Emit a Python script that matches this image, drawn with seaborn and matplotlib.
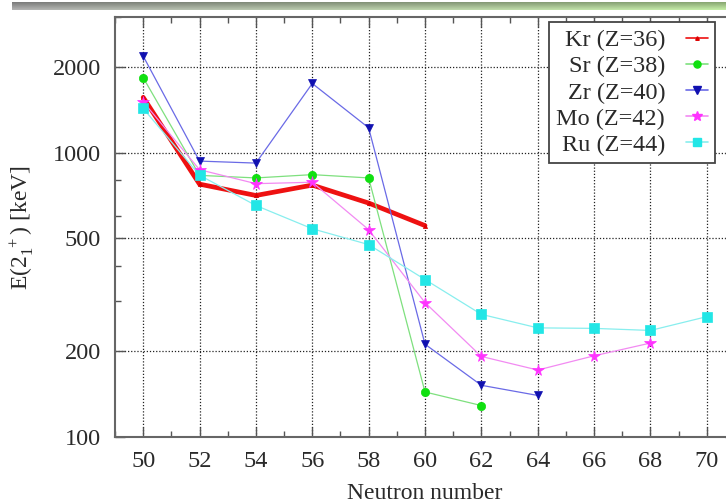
import numpy as np
import pandas as pd
import matplotlib
matplotlib.use("Agg")
import matplotlib.pyplot as plt
from matplotlib.lines import Line2D
from matplotlib.ticker import FixedLocator, FixedFormatter, NullFormatter
import seaborn as sns

# ---- data ----
elements = ["Kr (Z=36)", "Sr (Z=38)", "Zr (Z=40)", "Mo (Z=42)", "Ru (Z=44)"]
kr_n = [50, 52, 54, 56, 58, 60]
kr_e = [1565, 775, 707, 769, 665, 554]
sr_n = [50, 52, 54, 56, 58, 60, 62]
sr_e = [1836, 832, 815, 837, 815, 144, 129]
zr_n = [50, 52, 54, 56, 58, 60, 62, 64]
zr_e = [2186, 934, 919, 1751, 1223, 212, 152, 140]
mo_n = [50, 52, 54, 56, 58, 60, 62, 64, 66, 68]
mo_e = [1510, 871, 778, 787, 536, 297, 192, 172, 193, 214]
ru_n = [50, 52, 54, 56, 58, 60, 62, 64, 66, 68, 70]
ru_e = [1431, 833, 652, 540, 475, 358, 270, 242, 241, 237, 265]
x_ticks = [50, 52, 54, 56, 58, 60, 62, 64, 66, 68, 70]
y_ticks = [100, 200, 500, 1000, 2000]

frames = []
for name, n, e in zip(elements, [kr_n, sr_n, zr_n, mo_n, ru_n],
                      [kr_e, sr_e, zr_e, mo_e, ru_e]):
    frames.append(pd.DataFrame({"N": n, "E": e, "element": name}))
df = pd.concat(frames, ignore_index=True)

styles = {
    "Kr (Z=36)": dict(line="#ee1111", mark="#dd0000", marker="^", ms=3, lw=3.4, z=2),
    "Sr (Z=38)": dict(line="#7ee07e", mark="#10e010", marker="o", ms=6, lw=0.9, z=3),
    "Zr (Z=40)": dict(line="#6a6ae6", mark="#1010b0", marker="v", ms=6, lw=0.9, z=4),
    "Mo (Z=42)": dict(line="#f28af2", mark="#ff33ff", marker="*", ms=8.5, lw=0.9, z=5),
    "Ru (Z=44)": dict(line="#88eeee", mark="#22e6e6", marker="s", ms=7, lw=0.9, z=6),
}

sns.set_style("ticks")
plt.rcParams["font.family"] = ["Liberation Serif", "DejaVu Serif"]

fig = plt.figure(figsize=(7.26, 5.03), dpi=100)
fig.patch.set_facecolor("white")

# decorative top band
band = fig.add_axes([12 / 726, 1 - 10 / 503, 714 / 726, 8 / 503])
gx = np.linspace(0, 1, 300)
gy = np.linspace(0, 1, 10)
left_c = np.array([0.55, 0.55, 0.55])
right_c = np.array([0.62, 0.78, 0.50])
img = np.zeros((10, 300, 3))
for i, v in enumerate(gy):
    shade = 0.75 + 0.25 * v
    img[i] = (left_c[None, :] * (1 - gx[:, None]) + right_c[None, :] * gx[:, None]) * shade + (1 - shade) * 0.3
img = np.clip(img + 0.15 * gy[:, None, None], 0, 1)
band.imshow(img, aspect="auto", extent=[0, 1, 0, 1])
band.axis("off")

ax = fig.add_axes([115 / 726, 1 - 437 / 503, 620 / 726, 420 / 503])

for name in elements:
    s = styles[name]
    sub = df[df["element"] == name]
    sns.lineplot(data=sub, x="N", y="E", ax=ax, sort=False, estimator=None,
                 color=s["line"], lw=s["lw"], marker=s["marker"], markersize=s["ms"],
                 markerfacecolor=s["mark"], markeredgecolor=s["mark"],
                 markeredgewidth=0.5, zorder=s["z"], legend=False)

ax.set_yscale("log")
ax.set_xlim(49, 71)
ax.set_ylim(100, 3000)
ax.xaxis.set_major_locator(FixedLocator(x_ticks))
ax.xaxis.set_minor_locator(FixedLocator([t + 1 for t in x_ticks[:-1]] + [49]))
ax.xaxis.set_major_formatter(FixedFormatter([str(v) for v in x_ticks]))
ax.yaxis.set_major_locator(FixedLocator(y_ticks))
ax.yaxis.set_minor_locator(FixedLocator([300, 400, 600, 800, 3000]))
ax.yaxis.set_major_formatter(FixedFormatter([str(v) for v in y_ticks]))
ax.yaxis.set_minor_formatter(NullFormatter())

ax.tick_params(which="both", direction="in", top=True, right=True,
               colors="#555555", labelcolor="#2a2a2a", labelsize=17.5)
ax.tick_params(which="major", length=7, width=1.0, pad=10)
ax.tick_params(which="minor", length=4, width=1.0)
ax.grid(True, which="major", color="#222222", linestyle=(0, (1, 1.5)), linewidth=0.9)
for sp in ax.spines.values():
    sp.set_color("#666666")
    sp.set_linewidth(1.5)

ax.set_xlabel("Neutron number", fontsize=17, color="#2a2a2a", labelpad=8)
ax.set_ylabel(r"E($\mathregular{2_1^{\ +}}$) [keV]", fontsize=17, color="#2a2a2a", labelpad=12)

handles = []
for name in elements:
    s = styles[name]
    handles.append(Line2D([], [], color=s["line"], lw=1.2, marker=s["marker"],
                          markersize=s["ms"] * 0.85, markerfacecolor=s["mark"],
                          markeredgecolor=s["mark"]))
leg = ax.legend(handles, elements, loc="upper right",
                bbox_to_anchor=(715 / 726, 1 - 22 / 503), bbox_transform=fig.transFigure,
                markerfirst=False, alignment="right", fontsize=17.5, frameon=True,
                fancybox=False, framealpha=1, edgecolor="#444444",
                handlelength=0.9, handletextpad=0.85, labelspacing=0.17,
                borderpad=0.3, borderaxespad=0)
leg.get_frame().set_linewidth(1.3)
for t in leg.get_texts():
    t.set_color("#2a2a2a")

fig.savefig("out.png", dpi=100, facecolor="white")
